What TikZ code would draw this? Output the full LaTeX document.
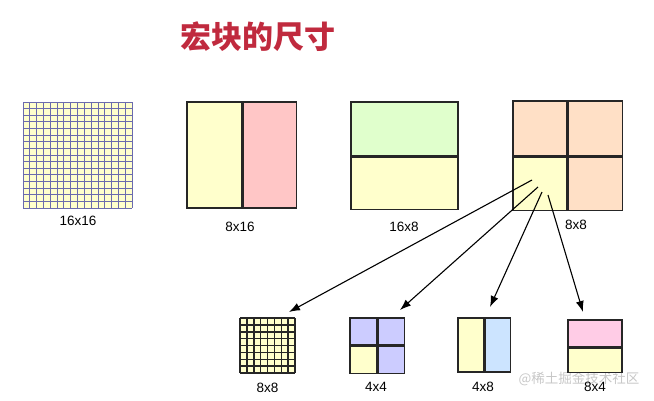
\documentclass[tikz,border=0pt]{standalone}
\usepackage{fontspec}
\setmainfont{Liberation Sans}
\newfontfamily\cjk{Noto Sans CJK SC}
\usepackage{xcolor}
\usepackage{tikz}
\usetikzlibrary{positioning,calc,arrows.meta}

\definecolor{cyel}{HTML}{FFFFCC}
\definecolor{cpink}{HTML}{FFC6C6}
\definecolor{cgreen}{HTML}{E0FFCC}
\definecolor{cpeach}{HTML}{FFE0C6}
\definecolor{cpurp}{HTML}{CCCCFF}
\definecolor{cblue}{HTML}{CCE4FF}
\definecolor{crose}{HTML}{FFCCE6}
\definecolor{cgrid}{HTML}{6B6BAE}
\definecolor{ctitle}{HTML}{C02A3E}

\tikzset{
  part/.style={draw=black!85, line width=1.1pt, inner sep=0pt},
  lbl/.style={font=\fontsize{13.5}{14}\selectfont, inner sep=0pt},
  arr/.style={-{Latex[length=11pt,width=8pt]}, line width=1.1pt}
}

\begin{document}
\begin{tikzpicture}[x=1pt, y=-1pt]
        \useasboundingbox (0,0) rectangle (654,400);

        \node[font=\cjk\bfseries\fontsize{31}{32}\selectfont, text=ctitle] (title) at (258,37) {宏块的尺寸};

        % 16x16 grid
        \node[inner sep=0pt, minimum width=109pt, minimum height=106pt, fill=cyel] (g16) at (77.5,155) {};
        \foreach \i in {0,...,16} {
            \draw[cgrid, line width=0.8pt] (23+\i*6.8125,102) -- (23+\i*6.8125,208);
            \draw[cgrid, line width=0.8pt] (23,102+\i*6.625) -- (132,102+\i*6.625);
        }
        \node[lbl] (l16x16) at (78,221) {16x16};

        % 8x16
        \node[part, fill=cyel, minimum width=55pt, minimum height=106pt] (a816) at (214.5,155) {};
        \node[part, fill=cpink, minimum width=53pt, minimum height=106pt, right=0pt of a816] (b816) {};
        \node[lbl] (l8x16) at (240,227) {8x16};

        % 16x8
        \node[part, fill=cgreen, minimum width=107pt, minimum height=54pt] (a168) at (404.5,129) {};
        \node[part, fill=cyel, minimum width=107pt, minimum height=52pt, below=0pt of a168] (b168) {};
        \node[lbl] (l16x8) at (404,227) {16x8};

        % 8x8 quadrants
        \node[part, fill=cpeach, minimum width=54pt, minimum height=55pt] (q1) at (540,128.5) {};
        \node[part, fill=cpeach, minimum width=54pt, minimum height=55pt, right=0pt of q1] (q2) {};
        \node[part, fill=cyel, minimum width=54pt, minimum height=53pt, below=0pt of q1] (q3) {};
        \node[part, fill=cpeach, minimum width=54pt, minimum height=53pt, below=0pt of q2] (q4) {};
        \node[lbl] (l8x8) at (576,225) {8x8};

        % small 8x8 grid
        \node[inner sep=0pt, minimum width=55pt, minimum height=55pt, fill=cyel] (g8) at (267.5,345.5) {};
        \foreach \i in {0,...,8} {
            \draw[black!85, line width=1.5pt] (240+\i*6.875,318) -- (240+\i*6.875,373);
            \draw[black!85, line width=1.5pt] (240,318+\i*6.875) -- (295,318+\i*6.875);
        }
        \node[lbl] (ls8x8) at (267.5,387.5) {8x8};

        % 4x4
        \node[part, fill=cpurp, minimum width=27pt, minimum height=27pt] (p1) at (363.5,331.5) {};
        \node[part, fill=cpurp, minimum width=26pt, minimum height=27pt, right=0pt of p1] (p2) {};
        \node[part, fill=cyel, minimum width=27pt, minimum height=27pt, below=0pt of p1] (p3) {};
        \node[part, fill=cpurp, minimum width=26pt, minimum height=27pt, below=0pt of p2] (p4) {};
        \node[lbl] (l4x4) at (376,387) {4x4};

        % 4x8
        \node[part, fill=cyel, minimum width=26pt, minimum height=54pt] (c1) at (471,345) {};
        \node[part, fill=cblue, minimum width=25pt, minimum height=54pt, right=0pt of c1] (c2) {};
        \node[lbl] (l4x8) at (483,387) {4x8};

        % 8x4
        \node[font=\cjk\fontsize{13.5}{14}\selectfont, text=black!22, inner sep=0pt] (wm) at (579,379) {@稀土掘金技术社区};
        \node[part, fill=crose, minimum width=54pt, minimum height=27pt] (r1) at (595,333.5) {};
        \node[part, fill=cyel, minimum width=54pt, minimum height=24pt, below=0pt of r1] (r2) {};
        \node[lbl] (l8x4) at (595,387) {8x4};

        % split arrows
        \coordinate (s1) at (532,180);
        \coordinate (s2) at (538,187);
        \coordinate (s3) at (542,192);
        \coordinate (s4) at (548,195);
        \coordinate (t1) at (289,312);
        \coordinate (t2) at (400,310);
        \coordinate (t3) at (490,307);
        \coordinate (t4) at (583,312);
        \draw[arr] (s1) -- (t1);
        \draw[arr] (s2) -- (t2);
        \draw[arr] (s3) -- (t3);
        \draw[arr] (s4) -- (t4);
    \end{tikzpicture}
\end{document}
